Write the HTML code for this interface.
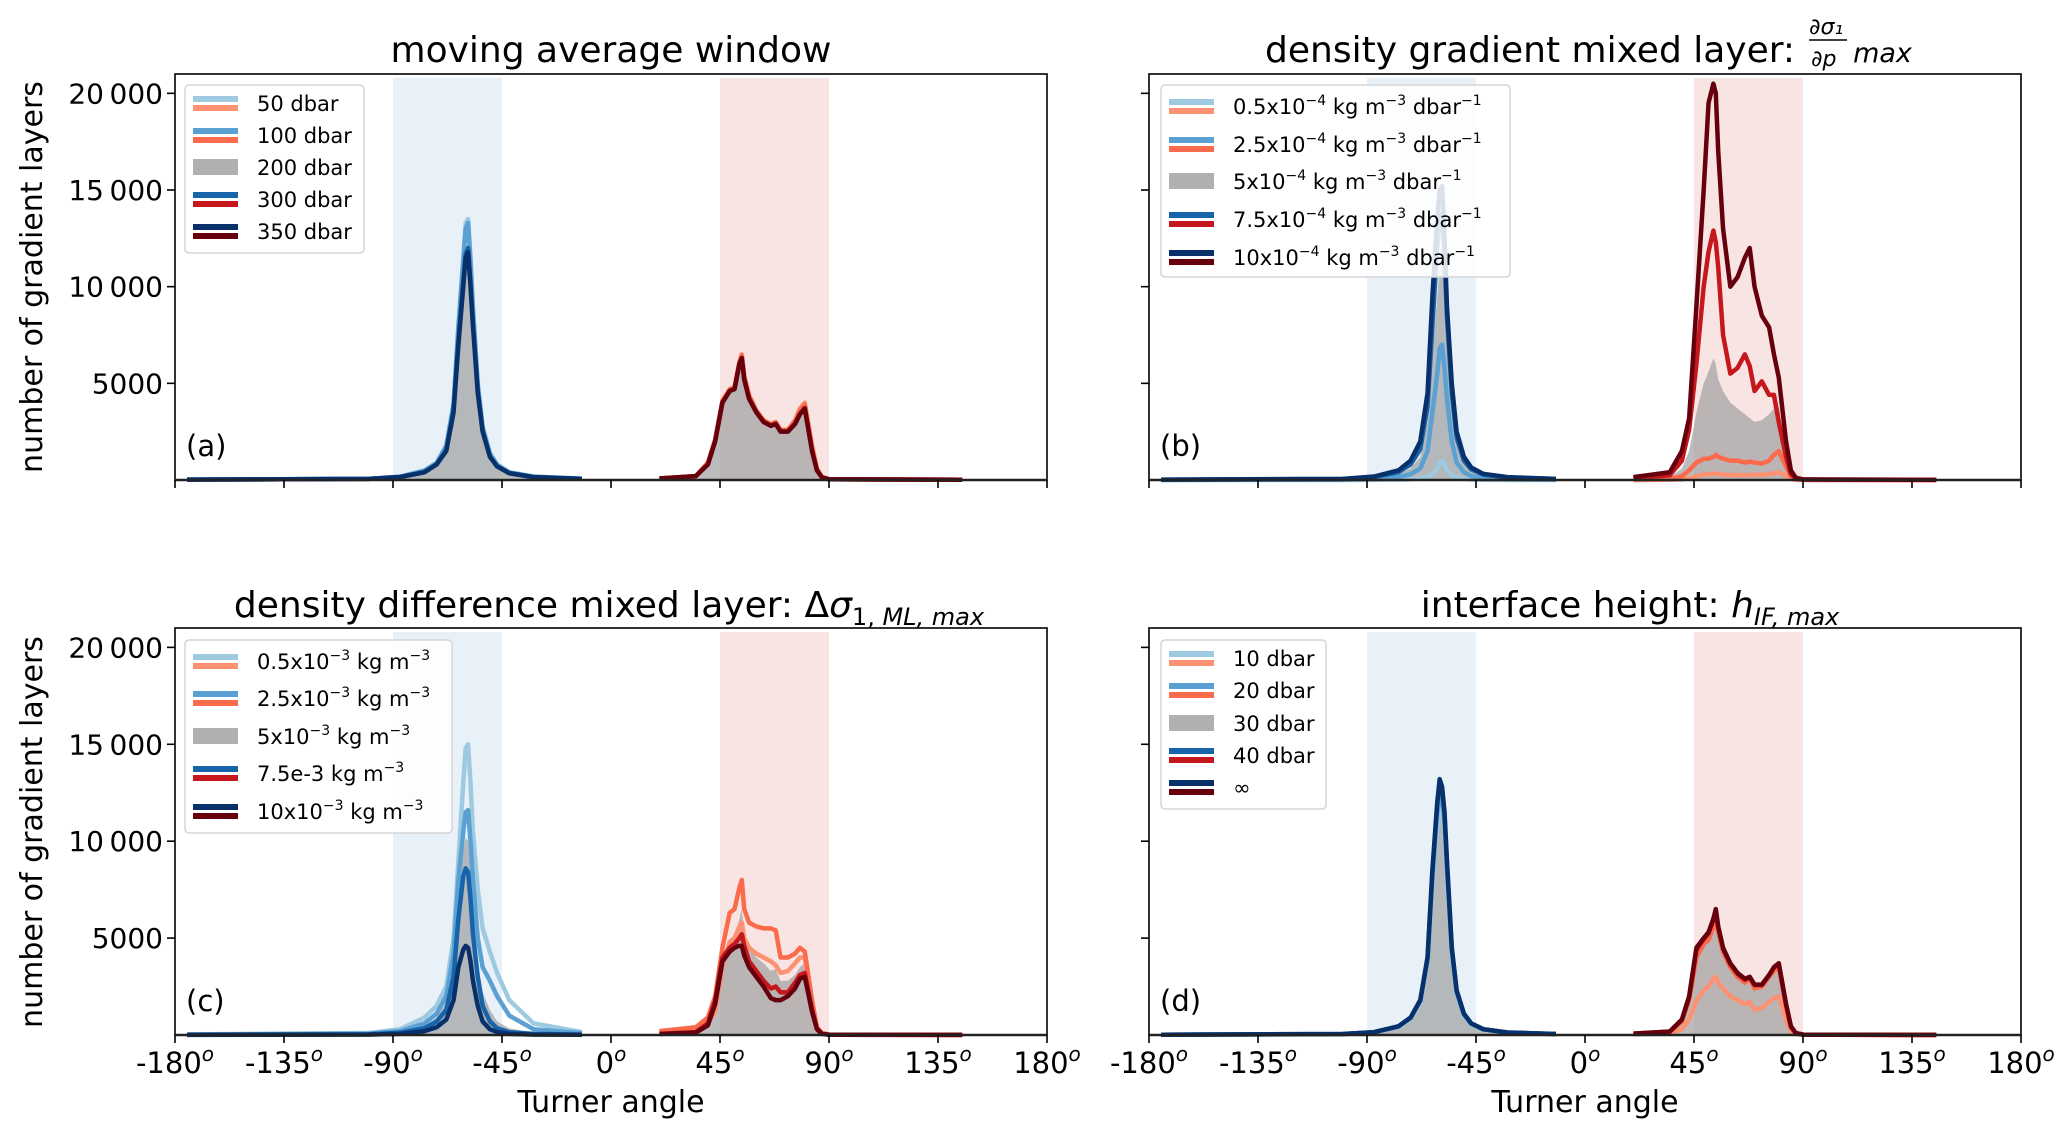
<!DOCTYPE html>
<html><head><meta charset="utf-8"><style>
html,body{margin:0;padding:0;background:#fff;}
svg{display:block;font-family:"DejaVu Sans","Liberation Sans",sans-serif;}
</style></head><body>
<svg id="fig" width="2067" height="1131" viewBox="0 0 2067 1131" xmlns="http://www.w3.org/2000/svg"></svg>
<script>
// ---- shared data ----
const angles = [-175,-100,-87,-77,-72,-68,-65,-63,-61,-60,-59,-58,-57,-55,-53,-50,-47,-42,-32,-12,
  20,35,40,43,46,49,51,53,54,55,57,60,63,66,68,70,73,76,78,80,83,85,87,90,145];
const xTicks = [-180,-135,-90,-45,0,45,90,135,180];
const yTicks = [5000,10000,15000,20000];
const yTickLabels = ["5000","10\u2009000","15\u2009000","20\u2009000"];

// panel (a)
const a1 = [20,60,180,500,900,1800,4000,8000,11500,13300,13500,11500,9000,5000,2800,1400,800,400,180,70, 80,200,900,2100,4100,4700,4800,6100,6500,5400,4400,3600,3100,2900,3000,2600,2600,3100,3700,4000,1800,600,150,40,10];
const a2 = [20,60,170,480,880,1750,3900,7900,11300,13000,13300,11300,8800,4900,2700,1350,780,390,170,65, 80,200,880,2080,4080,4680,4780,6080,6450,5350,4350,3570,3070,2880,2980,2580,2580,3050,3600,3900,1700,560,150,40,10];
const a3 = [20,60,160,430,830,1600,3700,7400,10600,12000,12200,10400,8300,4700,2600,1250,720,360,160,60, 80,200,820,2020,4020,4630,4730,6020,6350,5250,4250,3520,3020,2820,2920,2520,2520,2950,3450,3750,1550,520,150,40,10];
const a4 = [20,60,155,410,810,1550,3600,7200,10300,11700,12000,10200,8100,4600,2550,1220,710,355,155,60, 80,200,810,2010,4010,4610,4710,6010,6320,5220,4220,3510,3010,2810,2910,2510,2510,2920,3420,3720,1520,510,150,40,10];
const a5 = [20,60,150,400,800,1500,3500,7000,10000,11500,11800,10000,8000,4500,2500,1200,700,350,150,60, 80,200,800,2000,4000,4600,4700,6000,6300,5200,4200,3500,3000,2800,2900,2500,2500,2900,3400,3700,1500,500,150,40,10];
// panel (b)
const b1 = [0,0,10,20,40,80,150,300,600,900,1000,800,500,250,120,60,30,10,5,0, 0,10,30,80,200,280,300,320,330,300,280,260,250,250,260,270,280,300,350,400,200,60,10,0,0];
const b2 = [5,20,60,150,300,600,1500,3500,5500,6800,7000,5800,4200,2000,900,400,200,100,40,20, 20,60,200,500,900,1100,1100,1200,1300,1200,1100,1000,1000,900,950,900,850,1000,1300,1500,700,200,50,10,0];
const b3 = [10,40,120,300,600,1200,3000,6500,9500,11000,11200,9500,7000,3500,1800,800,450,220,100,40, 50,150,600,1500,3500,5000,5600,6300,6000,5200,4600,4000,3700,3400,3200,3000,3100,3400,3700,3800,1500,400,100,20,5];
const b4 = [15,50,150,400,800,1600,3800,8000,12000,13500,13800,11500,8500,4500,2200,1000,550,280,130,50, 80,250,1000,2600,6000,10000,11800,12900,12300,11000,7500,5500,5800,6500,5900,4600,5100,4400,4400,3000,1200,300,80,20,5];
const b5 = [20,60,180,500,1000,2000,4500,9500,13500,15000,15200,12500,9000,5000,2500,1200,650,320,150,60, 150,400,1500,3200,9000,15000,19500,20500,20000,17000,13000,10000,10500,11500,12000,10000,8500,7900,6500,5300,2000,500,120,30,5];
// panel (c)
const c1 = [30,100,300,900,1500,2500,5000,9000,13000,14800,15000,13000,10500,7500,5500,4300,3200,1800,600,150, 150,300,600,1200,3500,4800,5000,5600,5800,5000,4500,4200,4000,3800,3600,3200,3300,3700,4000,4000,1600,400,100,20,5];
const c2 = [20,70,200,600,1100,2000,4200,8000,10500,11500,11600,10000,8000,5000,3500,2800,2000,1000,300,90, 200,400,900,2000,4500,6300,6500,7600,8000,6500,5800,5600,5500,5500,5400,4000,4000,4200,4500,4300,1800,400,100,20,5];
const c3 = [15,50,150,450,900,1700,3800,7000,9500,10200,10000,8500,6500,3800,2200,1300,700,350,120,40, 80,200,700,2000,4200,4800,5000,6000,6500,5200,4600,4000,3700,3300,3400,2800,2800,3100,3500,3700,1500,400,80,20,5];
const c4 = [10,40,120,350,700,1300,3000,6000,8200,8600,8400,7000,5200,3000,1500,700,350,150,60,20, 60,150,600,1800,4000,4500,4700,5000,5200,4600,3800,3300,2800,2400,2500,2200,2200,2700,3100,3200,1300,350,80,15,5];
const c5 = [5,20,60,200,400,800,1800,3500,4400,4600,4500,3800,2800,1500,700,300,150,60,20,10, 50,120,500,1600,3800,4300,4500,4600,4600,4100,3500,3000,2500,1900,1800,1800,2000,2400,2900,3000,1200,300,60,10,5];
// panel (d)
const d1 = [12,45,140,420,850,1650,3700,7800,10800,11500,11600,10500,8300,4200,2100,1000,560,280,120,45, 30,80,300,800,1800,2300,2500,2900,3000,2700,2400,2000,1800,1600,1700,1300,1400,1700,1900,2000,800,200,50,10,0];
const d2 = [14,48,145,440,880,1750,3900,8200,11500,12200,12200,11000,8700,4400,2200,1050,580,290,125,48, 60,160,700,1800,4000,4700,4900,5600,6000,5300,4300,3500,3000,2700,2900,2400,2500,3000,3300,3500,1500,400,100,20,5];
const d3 = [14,48,145,440,880,1750,3900,8200,11600,12500,12300,11100,8700,4400,2200,1050,580,290,125,48, 62,165,720,1850,4100,4800,5000,5700,6100,5400,4350,3550,3050,2750,2950,2450,2520,3020,3350,3550,1520,410,100,20,5];
const d4 = [15,50,150,450,900,1800,4000,8400,11900,13100,12700,11400,8900,4500,2300,1100,600,300,130,50, 68,175,780,1950,4400,4950,5250,5950,6400,5550,4450,3650,3150,2850,2980,2580,2580,3080,3480,3680,1580,440,100,20,5];
const d5 = [15,50,150,450,900,1800,4000,8500,12000,13200,12800,11500,9000,4500,2300,1100,600,300,130,50, 70,180,800,2000,4500,5000,5300,6000,6500,5600,4500,3700,3200,2900,3000,2600,2600,3100,3500,3700,1600,450,100,20,5];

const BL = ['#9ecae1','#5aa0d2','#b0b0b0','#1764ab','#08306b'];
const RD = ['#fc9272','#fb6a4a','#b0b0b0','#c5171c','#67000d'];
const NS='http://www.w3.org/2000/svg';
const svg=document.getElementById('fig');
function mk(tag,attrs,parent){const e=document.createElementNS(NS,tag);for(const k in attrs)e.setAttribute(k,attrs[k]);(parent||svg).appendChild(e);return e;}

const panels=[
 {id:'a',x0:175,x1:1047,y0:74,y1:480,series:[a1,a2,a3,a4,a5],letter:'(a)',ylab:true,xlab:false,
  legend:{x:185,y:85,w:179,h:168,rows:[103,135,167,199,231],labels:['50 dbar','100 dbar','200 dbar','300 dbar','350 dbar']}},
 {id:'b',x0:1149,x1:2021,y0:74,y1:480,series:[b1,b2,b3,b4,b5],letter:'(b)',ylab:false,xlab:false,
  legend:{x:1161,y:85,w:349,h:192,rows:[106,144,181,219,257],labels:[['0.5x10','\u22124',' kg m','\u22123',' dbar','\u22121'],['2.5x10','\u22124',' kg m','\u22123',' dbar','\u22121'],['5x10','\u22124',' kg m','\u22123',' dbar','\u22121'],['7.5x10','\u22124',' kg m','\u22123',' dbar','\u22121'],['10x10','\u22124',' kg m','\u22123',' dbar','\u22121']]}},
 {id:'c',x0:175,x1:1047,y0:628,y1:1035,series:[c1,c2,c3,c4,c5],letter:'(c)',ylab:true,xlab:true,
  legend:{x:185,y:640,w:267,h:193,rows:[661,698,736,773,811],labels:[['0.5x10','\u22123',' kg m','\u22123'],['2.5x10','\u22123',' kg m','\u22123'],['5x10','\u22123',' kg m','\u22123'],['7.5e-3 kg m','\u22123'],['10x10','\u22123',' kg m','\u22123']]}},
 {id:'d',x0:1149,x1:2021,y0:628,y1:1035,series:[d1,d2,d3,d4,d5],letter:'(d)',ylab:false,xlab:true,
  legend:{x:1161,y:640,w:165,h:169,rows:[658,690,723,755,787],labels:['10 dbar','20 dbar','30 dbar','40 dbar','\u221e']}}
];

panels.forEach(p=>{
  const g=mk('g',{});
  
  
  const sx=v=>p.x0+(v+180)/360*(p.x1-p.x0);
  const sy=v=>p.y1-v/21000*(p.y1-p.y0);
  const bb=mk('rect',{x:sx(-90),y:p.y0+4,width:sx(-45)-sx(-90),height:p.y1-p.y0-4,fill:'#e8f0f8'},g);
  
  
  const rb=mk('rect',{x:sx(45),y:p.y0+4,width:sx(90)-sx(45),height:p.y1-p.y0-4,fill:'#f9e4e4'},g);
  
  
  function pathFor(vals,from,to,fill){
    let d='';
    for(let i=from;i<=to;i++){
      const x=sx(angles[i]), y=sy(vals[i]);
      d+=(i===from?(fill?'M'+x+','+p.y1+'L':'M'):'L')+x+','+y;
      if(i===to&&fill)d+='L'+x+','+p.y1+'Z';
    }
    return d;
  }
  const gf=mk('path',{d:pathFor(p.series[2],0,19,true)+pathFor(p.series[2],20,44,true),fill:'#a0a0a0','fill-opacity':0.7},g);
  
  
  [0,1,3,4].forEach(k=>{
    const bl=mk('path',{d:pathFor(p.series[k],0,19,false),fill:'none',stroke:BL[k],'stroke-width':4.5,'stroke-linejoin':'round'},g);
    
    
    const rl=mk('path',{d:pathFor(p.series[k],20,44,false),fill:'none',stroke:RD[k],'stroke-width':4.5,'stroke-linejoin':'round'},g);
    
    
  });
  const fr=mk('rect',{x:p.x0,y:p.y0,width:p.x1-p.x0,height:p.y1-p.y0,fill:'none',stroke:'#000','stroke-width':1.6},g);
  
  
  mk('line',{x1:p.x0,x2:p.x1,y1:p.y1,y2:p.y1,stroke:'#222','stroke-width':2.5},g);
  xTicks.forEach(t=>{
    mk('line',{x1:sx(t),x2:sx(t),y1:p.y1,y2:p.y1+8,stroke:'#000','stroke-width':1.6},g);
    if(p.xlab){
      const tx=mk('text',{x:sx(t),y:1073,'font-size':29,'text-anchor':'middle'},g);
      
      
      tx.appendChild(document.createTextNode(String(t)));
      const sup=mk('tspan',{'font-size':20,'font-style':'italic',dy:-12},tx);
      sup.textContent='o';
    }
  });
  yTicks.forEach((t,i)=>{
    mk('line',{x1:p.x0-8,x2:p.x0,y1:sy(t),y2:sy(t),stroke:'#000','stroke-width':1.6},g);
    if(p.ylab){
      const ty=mk('text',{x:p.x0-12,y:sy(t)+10,'font-size':28,'text-anchor':'end'},g);
      
      
      ty.textContent=yTickLabels[i];
    }
  });
  const lt=mk('text',{x:p.x0+11,y:p.y1-24,'font-size':29},g);
  
  
  lt.textContent=p.letter;
  if(p.xlab){
    const xt=mk('text',{x:(p.x0+p.x1)/2,y:1112,'font-size':30,'text-anchor':'middle'},g);
    
    
    xt.textContent='Turner angle';
  }
  const L=p.legend;
  const lg=mk('g',{},g);
  
  
  mk('rect',{x:L.x,y:L.y,width:L.w,height:L.h,rx:4,fill:'#fff','fill-opacity':0.85,stroke:'#d5d5d5','stroke-width':1.5},lg);
  L.rows.forEach((ry,k)=>{
    const e=mk('g',{},lg);
    
    
    if(k===2){mk('rect',{x:L.x+8,y:ry-8,width:45,height:16,fill:'#b0b0b0'},e);}
    else{mk('rect',{x:L.x+8,y:ry-7,width:45,height:6,fill:BL[k]},e);mk('rect',{x:L.x+8,y:ry+2,width:45,height:6,fill:RD[k]},e);}
    const t=mk('text',{x:L.x+72,y:ry+8,'font-size':21},e);
    const lab=L.labels[k];
    if(typeof lab==='string'){t.textContent=lab;}
    else{lab.forEach((s,j)=>{const ts=mk('tspan',j%2? {'font-size':14,dy:-9}:{'font-size':21,dy:(j>0?9:0)},t);ts.textContent=s;});}
  });
});

function title(x,y,parts,name,anchor){
  const t=mk('text',{x:x,y:y,'font-size':36,'text-anchor':anchor||'middle'});
  
  
  parts.forEach(pt=>{const s=mk('tspan',pt[1]||{},t);s.textContent=pt[0];});
  return t;
}
title(611,62,[['moving average window']],'title-a');
const tb=title(1265,62,[['density gradient mixed layer:']],'title-b','start');
const fx=1265+tb.getComputedTextLength()+14;
const fg=mk('g',{});


mk('text',{x:fx,y:34,'font-size':22,'font-style':'italic'},fg).textContent='\u2202\u03c3\u2081';
mk('line',{x1:fx,x2:fx+38,y1:40,y2:40,stroke:'#000','stroke-width':1.5},fg);
mk('text',{x:fx+2,y:66,'font-size':22,'font-style':'italic'},fg).textContent='\u2202p';
mk('text',{x:fx+44,y:62,'font-size':27,'font-style':'italic'},fg).textContent='max';
title(609,617,[['density difference mixed layer: \u0394'],['\u03c3',{'font-style':'italic'}],['1,',{'font-size':24,dy:8}],[' ML, max',{'font-size':24,'font-style':'italic'}]],'title-c');
title(1630,617,[['interface height: '],['h',{'font-style':'italic'}],['IF, max',{'font-size':24,'font-style':'italic',dy:8}]],'title-d');

const yl=mk('text',{x:0,y:0,'font-size':30,'text-anchor':'middle',transform:'translate(42,277) rotate(-90)'});


yl.textContent='number of gradient layers';
const yl2=mk('text',{x:0,y:0,'font-size':30,'text-anchor':'middle',transform:'translate(42,832) rotate(-90)'});


yl2.textContent='number of gradient layers';
</script>
</body></html>
